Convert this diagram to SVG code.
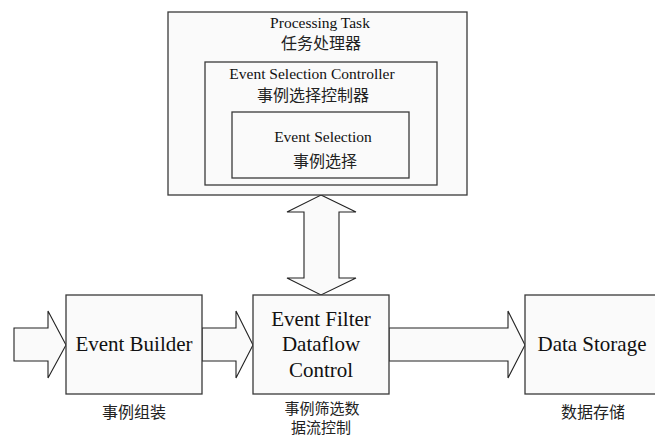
<svg xmlns="http://www.w3.org/2000/svg" width="655" height="439" viewBox="0 0 655 439">
  <style>
    .box { fill: #fafafa; stroke: #3a3a3a; stroke-width: 1.3; }
    .arrow { fill: #fafafa; stroke: #222; stroke-width: 1.1; stroke-linejoin: miter; }
    .en { font-family: "Liberation Serif", "Times New Roman", "DejaVu Serif", serif; fill: #111; text-anchor: middle; }
    .zh { font-family: "Noto Sans CJK SC", "Noto Sans CJK JP", sans-serif; fill: #222; text-anchor: middle; font-size: 16px; }
    .zh2 { font-size: 15px; }
    .small { font-size: 15.5px; }
    .big { font-size: 21px; }
  </style>
  <rect width="655" height="439" fill="#ffffff"/>

  <!-- connectors: block arrows -->
  <g id="connectors">
    <polygon class="arrow" points="14,328 48,328 48,311 66,345 48,378 48,361 14,361"/>
    <polygon class="arrow" points="202,328 236,328 236,311 253,345 236,378 236,361 202,361"/>
    <polygon class="arrow" points="389,328 508,328 508,311 525,345 508,378 508,361 389,361"/>
    <polygon class="arrow" points="321,195 356,212 339,212 339,278 356,278 321,295 287,278 304,278 304,212 287,212"/>
  </g>

  <g id="processing-task">
    <rect class="box" x="168" y="12" width="299" height="183"/>
    <text class="en small" x="320" y="28">Processing Task</text>
    <text class="zh" x="321" y="49">任务处理器</text>
  </g>

  <g id="event-selection-controller">
    <rect class="box" x="205" y="62" width="232" height="123"/>
    <text class="en small" x="312" y="79">Event Selection Controller</text>
    <text class="zh" x="313" y="101">事例选择控制器</text>
  </g>

  <g id="event-selection">
    <rect class="box" x="232" y="112" width="177" height="66"/>
    <text class="en small" x="323" y="142">Event Selection</text>
    <text class="zh" x="325" y="167">事例选择</text>
  </g>

  <g id="event-builder">
    <rect class="box" x="66" y="295" width="136" height="99"/>
    <text class="en big" x="134" y="351">Event Builder</text>
    <text class="zh" x="134" y="418">事例组装</text>
  </g>

  <g id="event-filter">
    <rect class="box" x="253" y="295" width="136" height="99"/>
    <text class="en big" x="321" y="326">Event Filter</text>
    <text class="en big" x="321" y="351">Dataflow</text>
    <text class="en big" x="321" y="377">Control</text>
    <text class="zh zh2" x="322" y="414">事例筛选数</text>
    <text class="zh zh2" x="321" y="433">据流控制</text>
  </g>

  <g id="data-storage">
    <rect class="box" x="525" y="295" width="135" height="99"/>
    <text class="en big" x="592" y="351">Data Storage</text>
    <text class="zh" x="593" y="418">数据存储</text>
  </g>
</svg>
